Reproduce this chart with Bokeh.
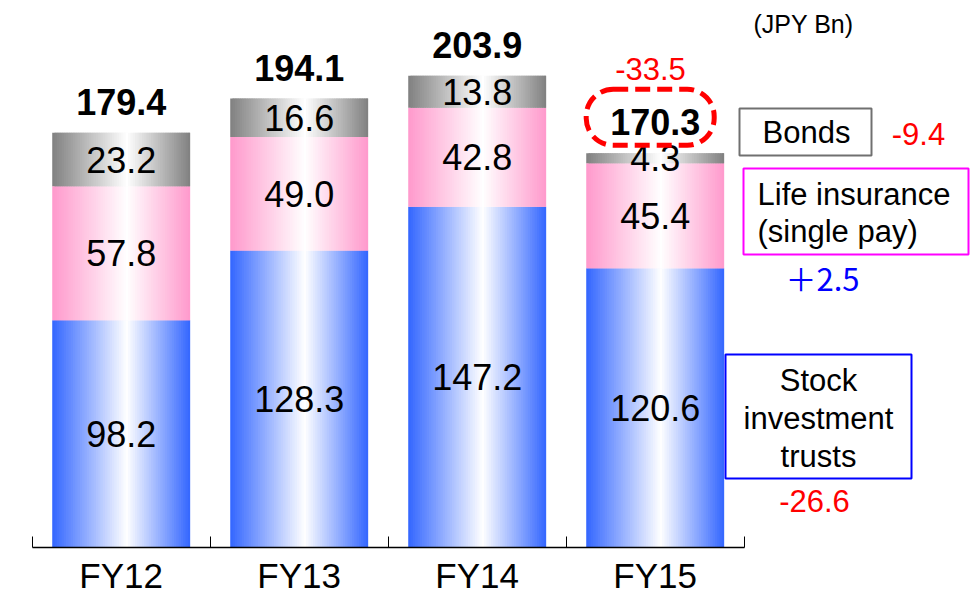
from bokeh.plotting import figure
from bokeh.models import Range1d, FixedTicker, ColumnDataSource, BoxAnnotation
from bokeh.core.properties import value
from bokeh.embed import file_html
from bokeh.resources import INLINE

# ---------------- data ----------------
categories = ["FY12", "FY13", "FY14", "FY15"]
stock = [98.2, 128.3, 147.2, 120.6]
life = [57.8, 49.0, 42.8, 45.4]
bonds = [23.2, 16.6, 13.8, 4.3]
totals = [179.4, 194.1, 203.9, 170.3]
seg_labels = [["98.2", "57.8", "23.2"], ["128.3", "49.0", "16.6"],
              ["147.2", "42.8", "13.8"], ["120.6", "45.4", "4.3"]]
total_labels = ["179.4", "194.1", "203.9", "170.3"]

# ---------------- geometry helpers (screen px of the reference -> data) ----------------
W, H = 975, 596
MARGIN = 0
X0_PX = 31.7      # figure px where x = 0
PX_X = 178.0      # px per category
Y0_PX = 547.0     # figure px where y = 0 (axis line)
PX_Y = 2.315      # px per JPY bn


def dx(sx):
    return (sx - MARGIN - X0_PX) / PX_X


def dy(sy):
    return (MARGIN + Y0_PX - sy) / PX_Y


FONT = value("Liberation Sans")

p = figure(width=W, height=H, output_backend="svg", toolbar_location=None,
           x_range=Range1d(dx(MARGIN), dx(MARGIN + W)),
           y_range=Range1d(dy(MARGIN + H), dy(MARGIN)),
           y_axis_location=None, min_border=0)
p.outline_line_color = None
p.xgrid.visible = False
p.ygrid.visible = False
p.background_fill_color = "white"
p.border_fill_color = "white"

# ---------------- gradient bars (vertical slices) ----------------
BAR_W = 0.775
N = 60
PEAK = 0.54
seg_colors = [(0x33, 0x66, 0xFF), (0xFF, 0x99, 0xCC), (0x80, 0x80, 0x80)]


def mix(c, a):
    return "#%02x%02x%02x" % tuple(int(round(ci + (255 - ci) * a)) for ci in c)


ls, rs, bots, tops, cols = [], [], [], [], []
sw = BAR_W / N
for i in range(len(categories)):
    vals = [stock[i], life[i], bonds[i]]
    base = 0.0
    left0 = i + 0.5 - BAR_W / 2
    for s, v in enumerate(vals):
        for k in range(N):
            f = (k + 0.5) / N
            a = f / PEAK if f < PEAK else (1 - f) / (1 - PEAK)
            ls.append(left0 + k * sw)
            rs.append(left0 + (k + 1) * sw + (0.9 * sw if k < N - 1 else 0))
            bots.append(base)
            tops.append(base + v)
            cols.append(mix(seg_colors[s], a))
        base += v

src = ColumnDataSource(dict(l=ls, r=rs, b=bots, t=tops, c=cols))
p.quad(left="l", right="r", bottom="b", top="t", fill_color="c", line_color=None, source=src)

# ---------------- segment labels ----------------
lx, ly, lt = [], [], []
for i in range(len(categories)):
    vals = [stock[i], life[i], bonds[i]]
    base = 0.0
    for s, v in enumerate(vals):
        lx.append(i + 0.5)
        ly.append(base + v / 2)
        lt.append(seg_labels[i][s])
        base += v
p.text(x=lx, y=ly, text=lt, text_font=FONT, text_font_size=value("36px"),
       text_color="black", text_align="center", text_baseline="middle")

# ---------------- total labels ----------------
tx = [i + 0.5 for i in range(len(categories))]
ty = [stock[i] + life[i] + bonds[i] + 31 / PX_Y for i in range(len(categories))]
p.text(x=tx, y=ty, text=total_labels, text_font=FONT, text_font_size=value("36px"),
       text_font_style="bold", text_color="black", text_align="center", text_baseline="middle")

# dashed rounded box around FY15 total
cx, cy = tx[3] - 5 / PX_X, ty[3] + 5 / PX_Y
p.add_layout(BoxAnnotation(left=cx - 64 / PX_X, right=cx + 64 / PX_X,
                           bottom=cy - 28 / PX_Y, top=cy + 28 / PX_Y,
                           fill_alpha=0, line_color="#FF0000", line_alpha=1.0, line_width=5,
                           line_dash="15 7", border_radius=27))

# ---------------- x axis ----------------
ax = p.xaxis[0]
ax.fixed_location = 0
ax.bounds = (0, len(categories))
ax.ticker = FixedTicker(ticks=[i + 0.5 for i in range(len(categories))],
                        minor_ticks=list(range(len(categories) + 1)))
ax.major_label_overrides = {i + 0.5: c for i, c in enumerate(categories)}
ax.major_tick_line_color = None
ax.major_tick_in = 0
ax.major_tick_out = 0
ax.minor_tick_in = 11
ax.minor_tick_out = 0
ax.minor_tick_line_color = "black"
ax.axis_line_color = "black"
ax.axis_line_width = 1.3
ax.major_label_text_font = "Liberation Sans"
ax.major_label_text_font_size = "35px"
ax.major_label_text_color = "black"
ax.major_label_standoff = 8

# ---------------- annotations on the right ----------------
def txt(sx, sy, s, size="31px", color="black", align="center", style="normal", font=FONT):
    p.text(x=[dx(sx)], y=[dy(sy)], text=[s], text_font=font, text_font_size=value(size),
           text_color=color, text_align=align, text_baseline="middle", text_font_style=style)


def box(l, t, r, b, color, lw=2):
    p.quad(left=[dx(l)], right=[dx(r)], top=[dy(t)], bottom=[dy(b)],
           fill_color="white", line_color=color, line_width=lw)


txt(803, 23, "(JPY Bn)", size="25px")
txt(650, 68, "-33.5", color="#FF0000")

box(739, 108, 871, 155, "#707070")
txt(806, 132, "Bonds")
txt(918, 133, "-9.4", color="#FF0000")

box(743, 168, 968, 254, "#FF00FF")
txt(757, 194, "Life insurance", align="left")
txt(757, 231, "(single pay)", align="left")
txt(822, 277, "＋2.5", color="#0000FF", font=value("Noto Sans CJK JP"))

box(725, 354, 911, 478, "#0000FF")
txt(818, 380, "Stock")
txt(818, 418, "investment")
txt(818, 456, "trusts")
txt(814, 500, "-26.6", color="#FF0000")

open("out.html", "w").write(file_html(p, INLINE))
